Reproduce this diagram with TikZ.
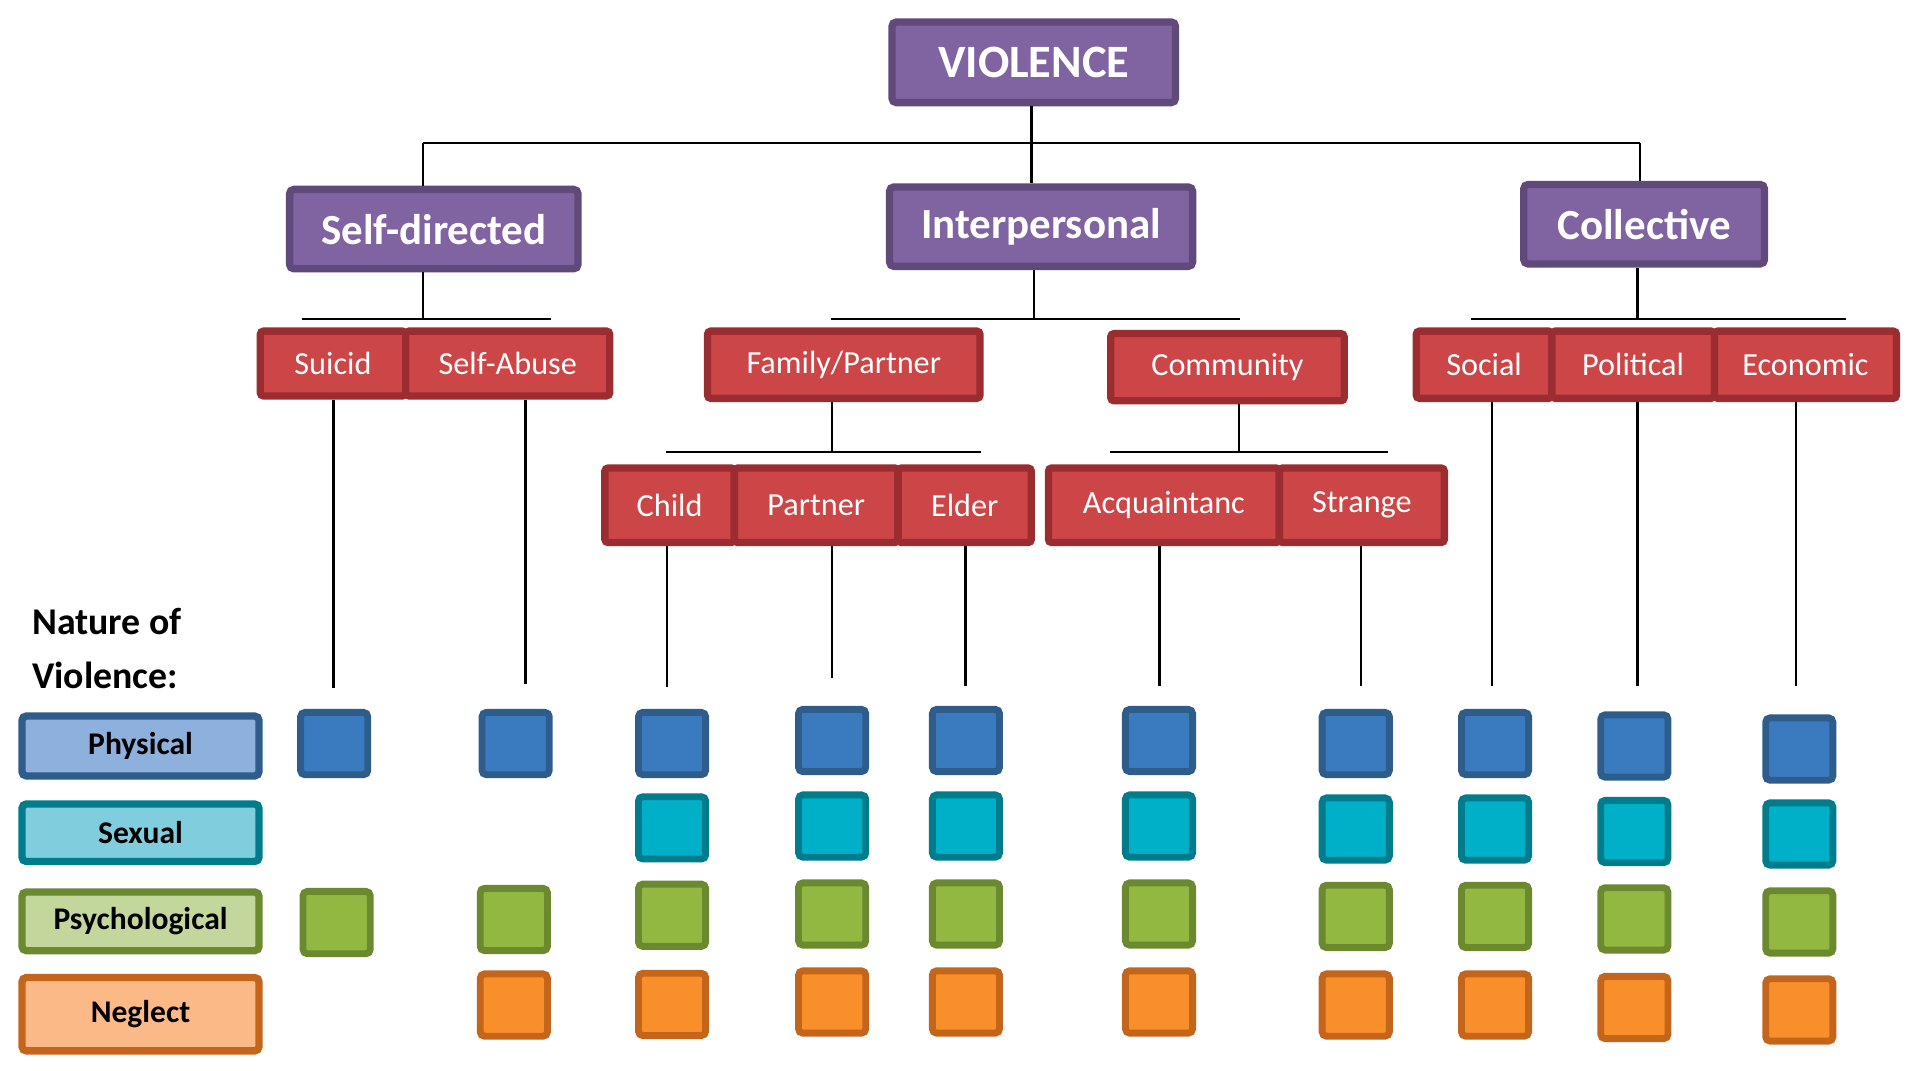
\documentclass[tikz,border=0pt]{standalone}
\usepackage{fontspec}
\setmainfont{Carlito}
\definecolor{purpF}{HTML}{8064A2}
\definecolor{purpD}{HTML}{5F4A7B}
\definecolor{redF}{HTML}{CC4648}
\definecolor{redD}{HTML}{9B2D30}
\definecolor{bluL}{HTML}{8EB0DC}
\definecolor{bluF}{HTML}{3A7BBF}
\definecolor{bluD}{HTML}{2E5D8C}
\definecolor{tealL}{HTML}{80CEDD}
\definecolor{tealF}{HTML}{00AFC8}
\definecolor{tealD}{HTML}{007C8C}
\definecolor{grnL}{HTML}{C3D69B}
\definecolor{grnF}{HTML}{93B842}
\definecolor{grnD}{HTML}{6B8A30}
\definecolor{orgL}{HTML}{FCB988}
\definecolor{orgF}{HTML}{F98F2B}
\definecolor{orgD}{HTML}{C4651C}
\begin{document}
\begin{tikzpicture}[x=0.2mm,y=-0.2mm,
  conn/.style={line width=1.1pt,black},
  sz/.style 2 args={minimum width=#1*0.2mm,minimum height=#2*0.2mm},
  purpbox/.style={draw=purpD,fill=purpF,line width=3.4pt,rounded corners=2pt,
    text=white,inner sep=0pt,font=\bfseries\fontsize{20}{24}\selectfont},
  redcell/.style={draw=redD,fill=redF,line width=3.4pt,rounded corners=1.5pt,
    text=white,inner sep=0pt,font=\fontsize{15}{18}\selectfont},
  legbox/.style 2 args={draw=#1,fill=#2,line width=3.4pt,rounded corners=2pt,
    text=black,inner sep=0pt,minimum width=194*0.2mm,
    font=\bfseries\fontsize{14.7}{18}\selectfont},
  sqbox/.style 2 args={draw=#1,fill=#2,line width=3.2pt,rounded corners=2pt,
    inner sep=0pt,minimum width=55*0.2mm,minimum height=51*0.2mm}
]
\useasboundingbox (0,0) rectangle (1568,876);

% level 0 and 1
\node[purpbox,sz={232}{66},font=\bfseries\fontsize{21.6}{26}\selectfont] (viol) at (846,51) {VIOLENCE};
\node[purpbox,sz={236}{65}] (self) at (355,187.5) {Self-directed};
\node[purpbox,sz={248}{65}] (inter) at (852,185.5) {Interpersonal};
\node[purpbox,sz={197}{65}] (coll) at (1345.5,183.5) {Collective};

\coordinate (t0) at (844,117);
\coordinate (tL) at (346,117);
\coordinate (tR) at (1342,117);
\draw[conn] (viol.south -| t0) -- (inter.north -| t0);
\draw[conn] (tL) -- (tR);
\draw[conn] (tL) -- (self.north -| tL);
\draw[conn] (tR) -- (coll.north -| tR);

% level 2
\node[redcell,sz={119}{53}] (suicid) at (272.5,297.5) {Suicid};
\node[redcell,sz={167}{53}] (abuse) at (415.5,297.5) {Self-Abuse};
\node[redcell,sz={223}{55}] (family) at (690.5,298.5) {Family/Partner};
\node[redcell,sz={191}{55}] (comm) at (1004.5,300.5) {Community};
\node[redcell,sz={111}{55}] (social) at (1214.5,298.5) {Social};
\node[redcell,sz={133}{55}] (polit) at (1336.5,298.5) {Political};
\node[redcell,sz={149}{55}] (econ) at (1477.5,298.5) {Economic};

% level 3
\node[redcell,sz={106}{61}] (child) at (548,413.5) {Child};
\node[redcell,sz={134}{61}] (partner) at (668,413.5) {Partner};
\node[redcell,sz={109}{61}] (elder) at (789.5,413.5) {Elder};
\node[redcell,sz={189}{61}] (acq) at (952.5,413.5) {Acquaintanc};
\node[redcell,sz={135}{61}] (strange) at (1114.5,413.5) {Strange};

% sub-bars
\coordinate (sdL) at (247,261); \coordinate (sdR) at (451,261);
\draw[conn] (sdL) -- (sdR);
\draw[conn] (self.south -| 346,0) -- (346,261);
\coordinate (ipL) at (680,261); \coordinate (ipR) at (1015,261);
\draw[conn] (ipL) -- (ipR);
\draw[conn] (inter.south -| 846,0) -- (846,261);
\coordinate (clL) at (1204,261); \coordinate (clR) at (1511,261);
\draw[conn] (clL) -- (clR);
\draw[conn] (coll.south -| 1340,0) -- (1340,261);
\coordinate (fpL) at (545,370); \coordinate (fpR) at (803,370);
\draw[conn] (fpL) -- (fpR);
\draw[conn] (family.south -| 681,0) -- (681,370);
\coordinate (cmL) at (908,370); \coordinate (cmR) at (1136,370);
\draw[conn] (cmL) -- (cmR);
\draw[conn] (comm.south -| 1014,0) -- (1014,370);

% drop lines
\coordinate (d1) at (273,563);
\coordinate (d2) at (430,560);
\coordinate (d3) at (546,562);
\coordinate (d4) at (681,555);
\coordinate (d5) at (790,561);
\coordinate (d6) at (949,561);
\coordinate (d7) at (1114,561);
\coordinate (d8) at (1221,561);
\coordinate (d9) at (1340,561);
\coordinate (d10) at (1470,561);
\draw[conn] (suicid.south -| d1) -- (d1);
\draw[conn] (abuse.south -| d2) -- (d2);
\draw[conn] (child.south -| d3) -- (d3);
\draw[conn] (partner.south -| d4) -- (d4);
\draw[conn] (elder.south -| d5) -- (d5);
\draw[conn] (acq.south -| d6) -- (d6);
\draw[conn] (strange.south -| d7) -- (d7);
\draw[conn] (social.south -| d8) -- (d8);
\draw[conn] (polit.south -| d9) -- (d9);
\draw[conn] (econ.south -| d10) -- (d10);

% legend
\node[anchor=west,font=\bfseries\fontsize{17.6}{21}\selectfont,inner sep=0pt] (nat1) at (26,509) {Nature of};
\node[anchor=west,font=\bfseries\fontsize{17.6}{21}\selectfont,inner sep=0pt] (nat2) at (26,553) {Violence:};
\node[legbox={bluD}{bluL},minimum height=49*0.2mm] (lphys) at (115,610.5) {Physical};
\node[legbox={tealD}{tealL},minimum height=47*0.2mm] (lsex) at (115,681.5) {Sexual};
\node[legbox={grnD}{grnL},minimum height=48*0.2mm] (lpsy) at (115,754) {Psychological};
\node[legbox={orgD}{orgL},minimum height=60*0.2mm] (lneg) at (115,830) {Neglect};

% squares
\foreach \n/\x/\y in {a/273.5/608.5, b/422/608.5, c/550/608.5, d/681/606, e/790.5/606, f/948.5/606, g/1109.5/608.5, h/1223.5/608.5, i/1337.5/610.5, j/1472.5/613}
  \node[sqbox={bluD}{bluF}] (p\n) at (\x,\y) {};
\foreach \n/\x/\y in {c/550/677.5, d/681/676, e/790.5/676, f/948.5/676, g/1109.5/678.5, h/1223.5/678.5, i/1337.5/680.5, j/1472.5/682.5}
  \node[sqbox={tealD}{tealF}] (s\n) at (\x,\y) {};
\foreach \n/\x/\y in {a/275.5/755, b/420.5/752.5, c/550/749, d/681/748, e/790.5/748, f/948.5/748, g/1109.5/750, h/1223.5/750, i/1337.5/752, j/1472.5/754.5}
  \node[sqbox={grnD}{grnF}] (g\n) at (\x,\y) {};
\foreach \n/\x/\y in {b/420.5/822.5, c/550/822, d/681/820, e/790.5/820, f/948.5/820, g/1109.5/822.5, h/1223.5/822.5, i/1337.5/824.5, j/1472.5/826.5}
  \node[sqbox={orgD}{orgF}] (o\n) at (\x,\y) {};
\end{tikzpicture}
\end{document}
